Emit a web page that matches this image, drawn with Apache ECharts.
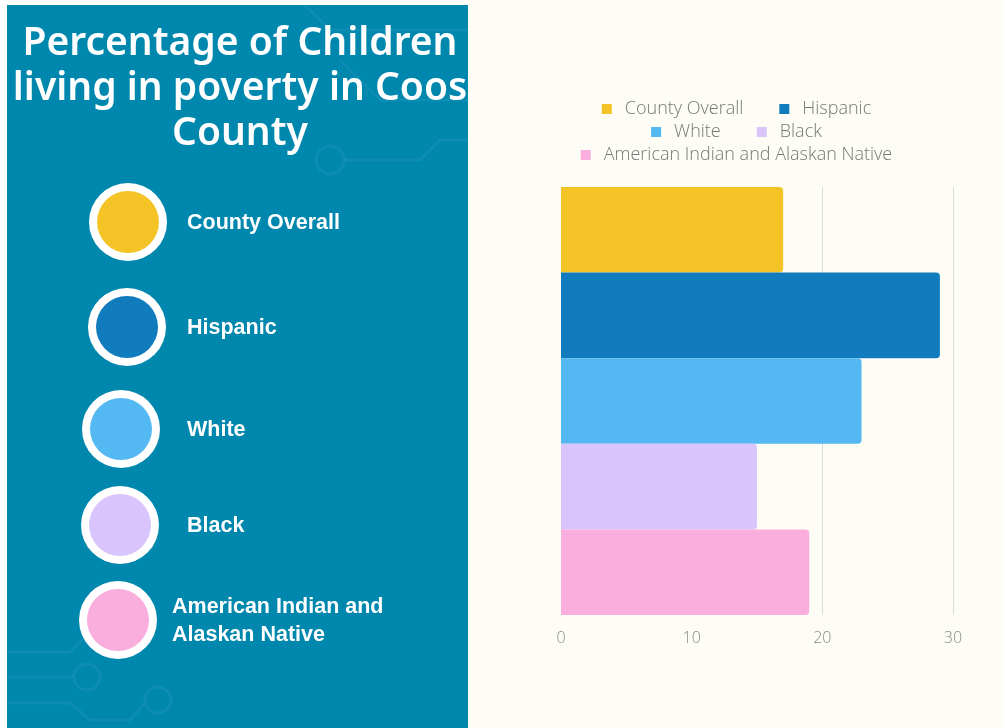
<!DOCTYPE html>
<html>
<head>
<meta charset="utf-8">
<script src="https://cdn.jsdelivr.net/npm/echarts@6/dist/echarts.min.js"></script>
<style>
  html, body { margin: 0; padding: 0; background: #ffffff; }
  #panel { position: absolute; left: 0; top: 0; width: 468px; height: 728px; }
  #chart { position: absolute; left: 468px; top: 0; width: 537px; height: 728px; }
</style>
</head>
<body>
<div id="panel"></div>
<div id="chart"></div>
<script>
// data
var categories = ['Children in poverty'];
var seriesNames = ['County Overall', 'Hispanic', 'White', 'Black', 'American Indian and Alaskan Native'];
var seriesValues = [17, 29, 23, 15, 19];
var seriesColors = ['#F4C325', '#107CBE', '#54B8F2', '#D9C4FB', '#F9AEDE'];
// left panel labels (line breaks as shown)
var titleLines = ['Percentage of Children', 'living in poverty in Coos', 'County'];
var panelLabels = [['County Overall'], ['Hispanic'], ['White'], ['Black'], ['American Indian and', 'Alaskan Native']];

// ---- left panel ----
var panelBg = '#0087AD';
var circles = [[128, 222], [127, 327], [121, 429], [120, 525], [118, 620]];
var labelX = [187, 187, 187, 187, 172];

var g = [];
g.push({ type: 'rect', shape: { x: 7, y: 5, width: 461, height: 723 }, style: { fill: panelBg } });

// faint circuit decoration
var deco = 'rgba(255,255,255,0.05)';
g.push({ type: 'polyline', shape: { points: [[300, 0], [330, 30], [468, 30]] }, style: { stroke: deco, lineWidth: 3, fill: null } });
g.push({ type: 'polyline', shape: { points: [[340, 60], [380, 100], [468, 100]] }, style: { stroke: deco, lineWidth: 3, fill: null } });
g.push({ type: 'circle', shape: { cx: 330, cy: 160, r: 14 }, style: { stroke: deco, lineWidth: 3, fill: null } });
g.push({ type: 'polyline', shape: { points: [[344, 160], [420, 160], [440, 140], [468, 140]] }, style: { stroke: deco, lineWidth: 3, fill: null } });
g.push({ type: 'polyline', shape: { points: [[7, 652], [70, 652], [90, 632]] }, style: { stroke: deco, lineWidth: 3, fill: null } });
g.push({ type: 'circle', shape: { cx: 87, cy: 677, r: 13 }, style: { stroke: deco, lineWidth: 3, fill: null } });
g.push({ type: 'polyline', shape: { points: [[7, 677], [74, 677]] }, style: { stroke: deco, lineWidth: 3, fill: null } });
g.push({ type: 'polyline', shape: { points: [[7, 703], [70, 703], [90, 720], [130, 720], [145, 703]] }, style: { stroke: deco, lineWidth: 3, fill: null } });
g.push({ type: 'circle', shape: { cx: 158, cy: 700, r: 13 }, style: { stroke: deco, lineWidth: 3, fill: null } });

// title
for (var t = 0; t < titleLines.length; t++) {
  g.push({
    type: 'text', x: 240, y: 44 + t * 45,
    style: {
      text: titleLines[t], fill: '#ffffff', align: 'center', verticalAlign: 'middle',
      font: '600 39px "Noto Sans", sans-serif'
    }
  });
}

// legend circles + labels
for (var i = 0; i < circles.length; i++) {
  g.push({ type: 'circle', shape: { cx: circles[i][0], cy: circles[i][1], r: 39 }, style: { fill: '#ffffff' } });
  g.push({ type: 'circle', shape: { cx: circles[i][0], cy: circles[i][1], r: 31 }, style: { fill: seriesColors[i] } });
  var lines = panelLabels[i];
  var cy = circles[i][1] + 1;
  for (var k = 0; k < lines.length; k++) {
    g.push({
      type: 'text', x: labelX[i], y: cy - (lines.length - 1) * 14 + k * 28,
      style: {
        text: lines[k], fill: '#ffffff', align: 'left', verticalAlign: 'middle',
        font: 'bold 21.5px "Liberation Sans", Arial, sans-serif'
      }
    });
  }
}

var panel = echarts.init(document.getElementById('panel'));
panel.setOption({ graphic: g });

// ---- bar chart ----
var legendRows = [seriesNames.slice(0, 2), seriesNames.slice(2, 4), seriesNames.slice(4)];
var legendTop = [95, 118, 141];
var legends = legendRows.map(function (row, idx) {
  return {
    data: row,
    top: legendTop[idx],
    left: 'center',
    icon: 'rect',
    itemWidth: 10,
    itemHeight: 10,
    itemGap: 36,
    textStyle: {
      color: '#777777', fontSize: 18, fontWeight: 300,
      fontFamily: '"Open Sans", sans-serif', padding: [0, 0, 0, 8]
    }
  };
});

var series = seriesNames.map(function (name, idx) {
  return {
    name: name,
    type: 'bar',
    data: [seriesValues[idx]],
    barGap: '0%',
    barCategoryGap: '0%',
    itemStyle: { color: seriesColors[idx], borderRadius: [0, 4, 4, 0] }
  };
});

var option = {
  backgroundColor: '#FDFDF6',
  legend: legends,
  grid: { left: 93, right: 52, top: 187, bottom: 113, containLabel: false },
  xAxis: {
    type: 'value',
    min: 0,
    max: 30,
    interval: 10,
    axisLine: { show: false },
    axisTick: { show: false },
    axisLabel: {
      color: '#8a8a8a', fontSize: 16, fontWeight: 300, margin: 15,
      fontFamily: '"Open Sans", sans-serif'
    },
    splitLine: { lineStyle: { color: '#dcdcdc', width: 1 } }
  },
  yAxis: {
    type: 'category',
    data: categories,
    inverse: true,
    axisLine: { show: false },
    axisTick: { show: false },
    axisLabel: { show: false }
  },
  series: series
};

var chart = echarts.init(document.getElementById('chart'));
chart.setOption(option);
</script>
</body>
</html>
